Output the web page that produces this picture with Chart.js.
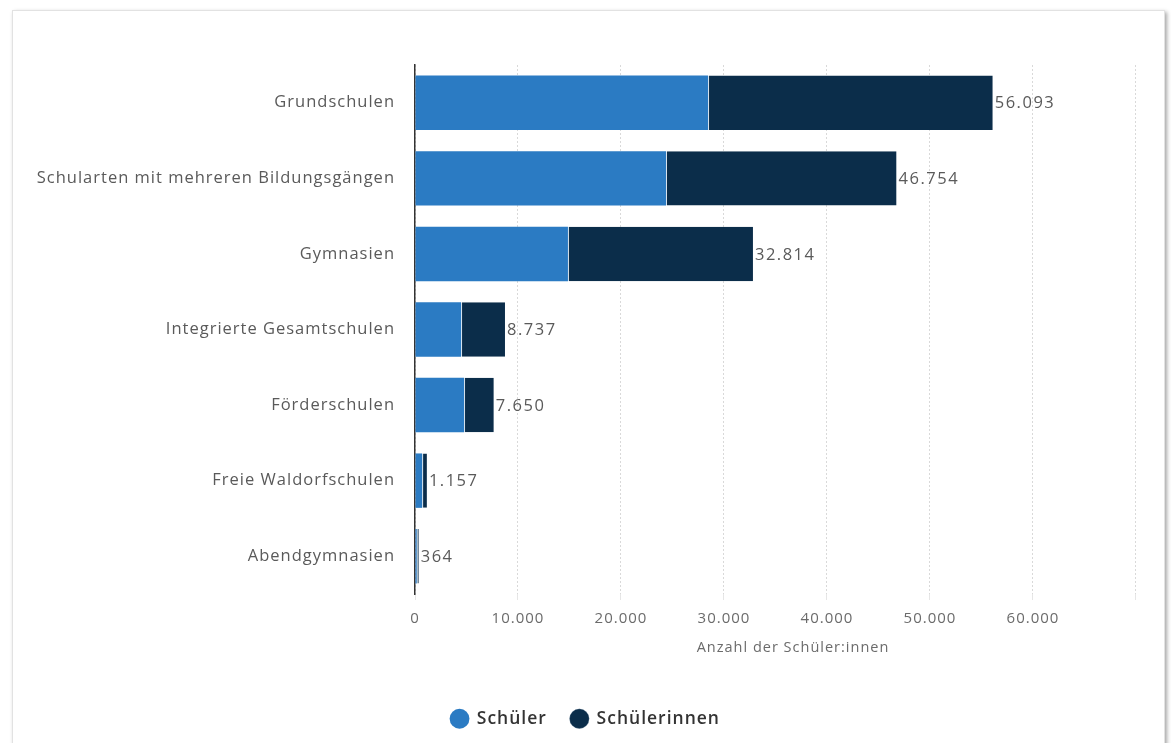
<!DOCTYPE html>
<html lang="de">
<head>
<meta charset="utf-8">
<title>Schüler:innen nach Schulart</title>
<script src="https://cdn.jsdelivr.net/npm/chart.js@4.4.1/dist/chart.umd.min.js"></script>
<style>
  html, body { margin: 0; padding: 0; background: #fff; overflow: hidden; }
  .card {
    position: absolute; left: 12px; top: 10px; width: 1151px; height: 740px;
    background: #fff; border: 1px solid #e2e2e2;
    box-shadow: 2px 2px 4px rgba(0,0,0,0.35);
  }
  /* canvas runs a little past the bottom edge so the legend can sit low */
  .wrap { position: absolute; left: 0; top: 0; width: 1171px; height: 760px; }
</style>
</head>
<body>
<div class="card"></div>
<div class="wrap"><canvas id="chart"></canvas></div>
<script>
// Schularten (top to bottom)
const categories = [
  'Grundschulen',
  'Schularten mit mehreren Bildungsgängen',
  'Gymnasien',
  'Integrierte Gesamtschulen',
  'Förderschulen',
  'Freie Waldorfschulen',
  'Abendgymnasien'
];
const schueler      = [28450, 24370, 14850, 4470, 4760, 690, 170];
const schuelerinnen = [27643, 22384, 17964, 4267, 2890, 467, 194];
const xTicks = [0, 10000, 20000, 30000, 40000, 50000, 60000, 70000];

const FONT = "'Open Sans', sans-serif";
const fmt = v => String(v).replace(/\B(?=(\d{3})+(?!\d))/g, '.');

// slightly tracked-out text everywhere on the canvas
const spacing = {
  id: 'spacing',
  beforeLayout(chart) { chart.ctx.letterSpacing = '1px'; },
  beforeDraw(chart) { chart.ctx.letterSpacing = '1px'; }
};

// total of the stack written after the last segment
const totalLabels = {
  id: 'totalLabels',
  afterDatasetsDraw(chart) {
    const { ctx } = chart;
    const last = chart.getDatasetMeta(chart.data.datasets.length - 1);
    ctx.save();
    ctx.letterSpacing = '1.5px';
    ctx.font = `16.5px ${FONT}`;
    ctx.fillStyle = '#5a5a5a';
    ctx.textAlign = 'left';
    ctx.textBaseline = 'middle';
    last.data.forEach((bar, i) => {
      const sum = chart.data.datasets.reduce((a, ds) => a + ds.data[i], 0);
      ctx.fillText(fmt(sum), bar.x + 2, bar.y + 1);
    });
    ctx.restore();
  }
};

new Chart(document.getElementById('chart'), {
  type: 'bar',
  data: {
    labels: categories,
    datasets: [
      { label: 'Schüler', data: schueler, backgroundColor: '#2b7bc3' },
      { label: 'Schülerinnen', data: schuelerinnen, backgroundColor: '#0b2d4a',
        borderColor: '#d8e4ee', borderWidth: { left: 1 }, borderSkipped: false }
    ]
  },
  options: {
    indexAxis: 'y',
    responsive: true,
    maintainAspectRatio: false,
    animation: false,
    categoryPercentage: 1,
    barPercentage: 0.72,
    layout: { padding: { top: 65, right: 0, bottom: 22.5, left: 0 } },
    scales: {
      x: {
        stacked: true,
        min: 0,
        max: 73400,
        afterBuildTicks: axis => { axis.ticks = xTicks.map(v => ({ value: v })); },
        afterFit: axis => { axis.height = 92; },
        grid: { color: '#d9d9d9', tickLength: 6, tickColor: '#e6e6e6' },
        border: { display: false, dash: [2, 2] },
        ticks: {
          color: '#6b6b6b', padding: 10,
          font: { family: FONT, size: 15 },
          callback: v => (v === 70000 ? '' : fmt(v))
        },
        title: {
          display: true, text: 'Anzahl der Schüler:innen', color: '#6b6b6b',
          font: { family: FONT, size: 14.5 }, padding: { top: 4, bottom: 29 }
        }
      },
      y: {
        stacked: true,
        afterFit: axis => { axis.width = 415; },
        grid: { display: false },
        border: { display: true, color: '#333', width: 1.5 },
        ticks: { color: '#5a5a5a', padding: 12, font: { family: FONT, size: 16.5 } }
      }
    },
    plugins: {
      legend: {
        position: 'bottom',
        labels: {
          usePointStyle: true, pointStyle: 'circle', boxWidth: 17, boxHeight: 14,
          padding: 24, color: '#333', font: { family: FONT, size: 17.5, weight: '600' }
        }
      },
      tooltip: { enabled: false }
    }
  },
  plugins: [spacing, totalLabels]
});
</script>
</body>
</html>
